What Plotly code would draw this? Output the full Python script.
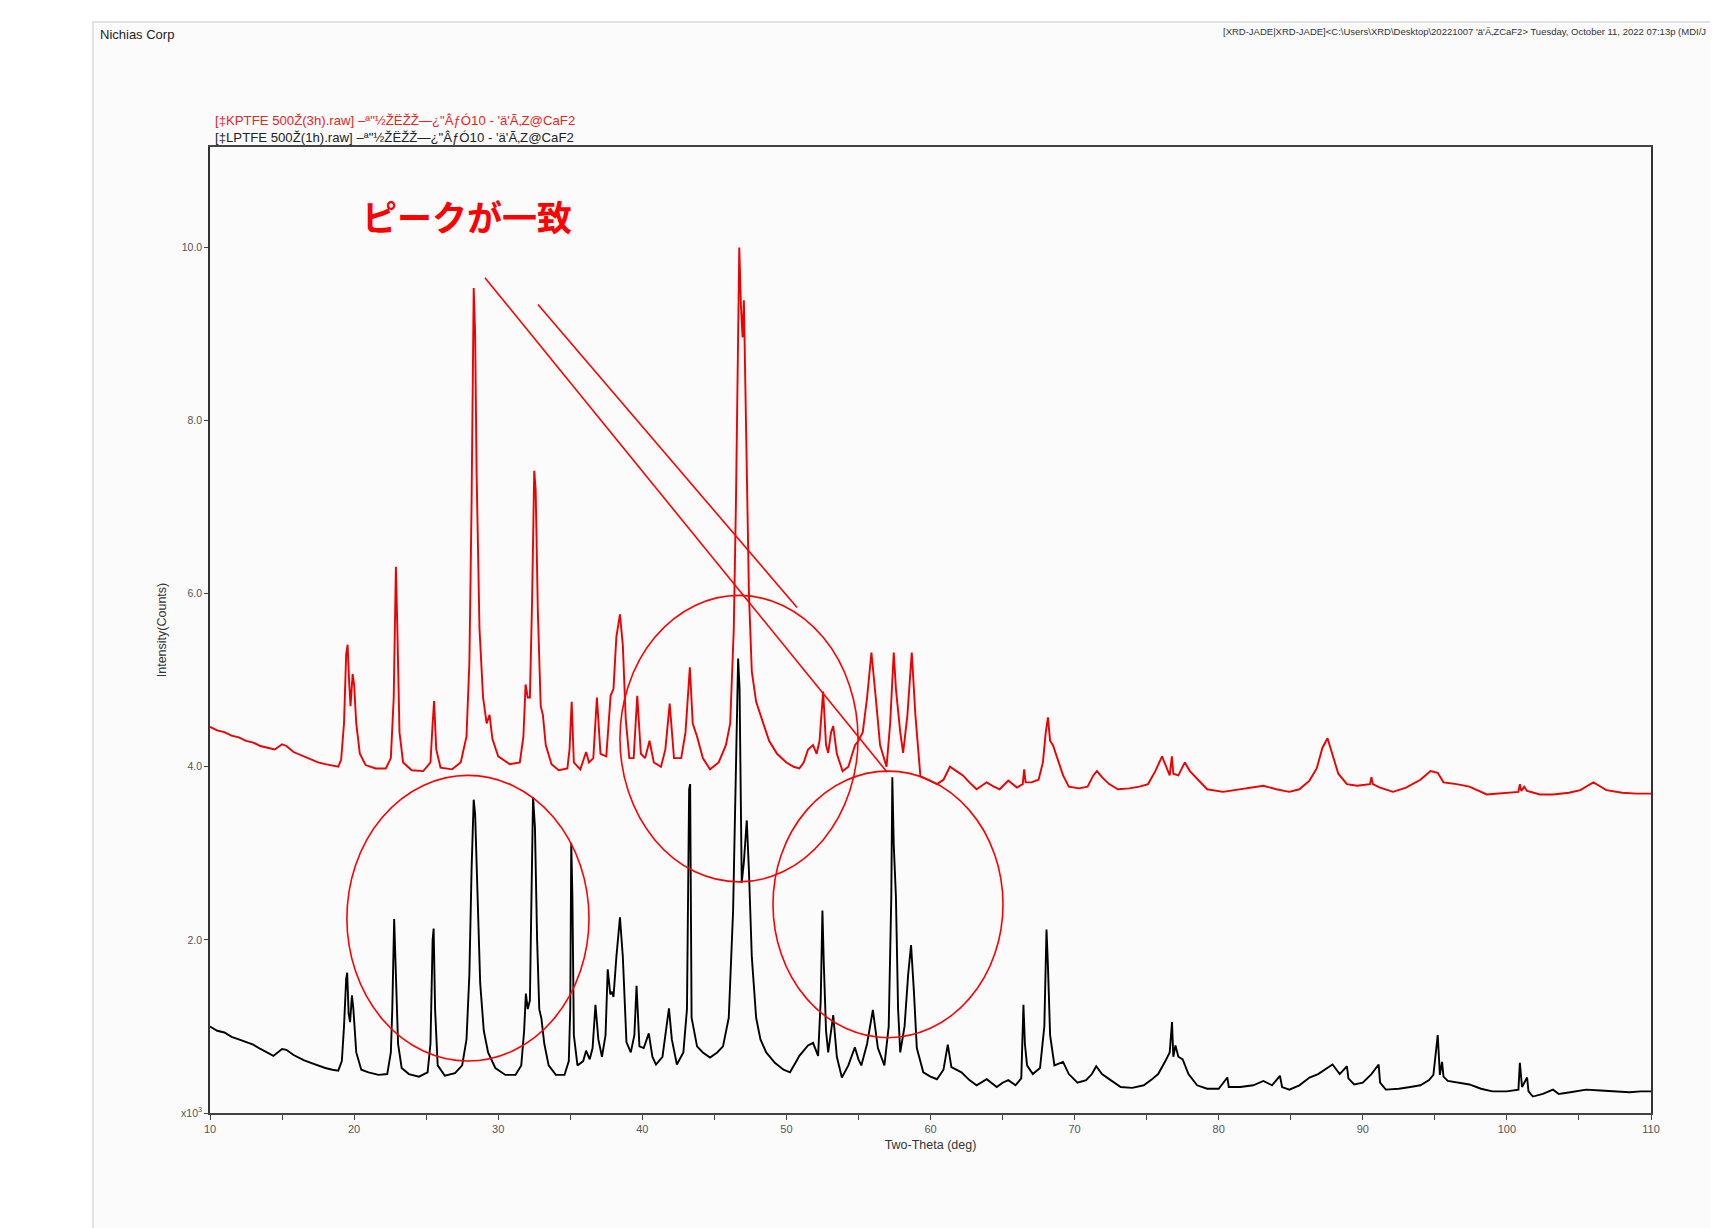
import plotly.graph_objects as go

# ---- data (two-theta in deg, intensity in x10^3 counts) ----
red_x = [10.0,10.5,11.0,11.5,12.0,12.5,13.0,13.5,14.0,14.5,15.0,15.3,15.8,16.5,17.0,17.5,18.0,18.5,18.9,
         19.1,19.3,19.45,19.55,19.65,19.75,19.9,20.0,20.15,20.4,20.8,21.5,22.2,22.55,22.75,22.9,23.0,23.15,23.4,
         24.0,24.8,25.3,25.45,25.55,25.7,26.0,26.8,27.4,27.8,28.0,28.15,28.3,28.4,28.5,28.7,28.95,29.2,29.4,29.6,
         30.0,30.8,31.5,31.75,31.9,32.05,32.2,32.35,32.5,32.6,32.75,32.95,33.1,33.3,33.7,34.2,34.8,34.95,35.1,
         35.25,35.7,36.1,36.3,36.6,36.85,37.1,37.5,37.8,38.0,38.2,38.45,38.65,38.85,39.1,39.4,39.65,39.9,40.2,
         40.5,40.8,41.3,41.6,41.9,42.2,42.7,43.0,43.3,43.5,43.8,44.2,44.7,45.3,45.8,46.1,46.35,46.5,46.65,46.73,
         46.85,46.96,47.05,47.15,47.25,47.4,47.6,47.9,48.2,48.8,49.35,50.0,50.5,50.9,51.2,51.5,51.85,52.1,52.3,
         52.55,52.75,52.9,53.1,53.25,53.5,53.9,54.3,54.76,55.0,55.3,55.6,55.9,56.2,56.5,56.95,57.2,57.45,57.6,
         57.9,58.1,58.4,58.7,58.95,59.3,59.8,60.45,60.9,61.35,61.8,62.25,62.7,63.2,63.9,64.3,64.8,65.4,66.0,
         66.4,66.5,66.6,67.0,67.5,67.8,68.0,68.15,68.3,68.5,68.8,69.2,69.6,70.3,70.9,71.3,71.55,71.9,72.4,73.0,
         73.8,74.5,75.1,75.6,76.07,76.4,76.6,76.75,76.85,77.2,77.65,78.0,78.6,79.2,80.3,81.5,83.1,84.0,84.9,
         85.6,86.3,86.8,87.2,87.55,87.9,88.3,88.9,89.6,90.5,90.6,90.7,91.2,92.1,93.0,94.0,94.7,95.2,95.6,96.5,
         97.4,98.6,99.8,100.8,100.9,101.0,101.2,101.4,102.3,103.2,104.3,105.1,105.6,106.0,106.4,106.9,108.0,
         109.0,110.0]
red_y = [4.46,4.42,4.40,4.36,4.34,4.30,4.28,4.24,4.22,4.20,4.26,4.24,4.17,4.12,4.08,4.05,4.03,4.01,4.00,
         4.08,4.50,5.30,5.41,5.00,4.70,5.07,4.95,4.50,4.15,4.02,3.98,3.98,4.10,4.80,6.31,5.60,4.40,4.05,
         3.96,3.95,4.05,4.50,4.76,4.20,3.99,3.97,4.05,4.35,5.20,7.00,9.53,9.00,7.40,5.60,4.80,4.50,4.60,4.32,
         4.12,4.03,4.05,4.35,4.95,4.80,4.80,5.90,7.42,7.20,5.80,4.70,4.60,4.25,4.03,3.96,3.98,4.20,4.75,
         4.05,3.97,4.17,4.05,4.10,4.80,4.15,4.12,4.82,4.90,5.50,5.76,5.40,4.55,4.10,4.10,4.82,4.15,4.10,
         4.30,4.05,4.00,4.20,4.73,4.10,4.10,4.40,5.15,4.50,4.35,4.10,3.97,4.05,4.25,4.50,5.60,7.07,9.20,10.0,
         9.30,8.96,9.39,8.40,7.60,6.00,5.10,4.75,4.60,4.30,4.15,4.05,4.00,3.98,4.05,4.20,4.25,4.15,4.30,
         4.87,4.25,4.16,4.40,4.47,4.15,3.95,4.00,4.25,4.30,4.40,4.80,5.32,4.80,4.25,4.00,4.50,5.32,4.90,
         4.40,4.16,4.60,5.32,4.60,3.89,3.85,3.80,3.85,4.00,3.95,3.90,3.82,3.74,3.82,3.78,3.74,3.84,3.76,
         3.80,3.97,3.82,3.82,3.85,4.05,4.40,4.57,4.30,4.25,4.10,3.90,3.77,3.75,3.77,3.90,3.95,3.88,3.80,3.74,
         3.75,3.77,3.80,3.95,4.12,3.98,3.90,4.12,3.92,3.90,4.05,3.95,3.85,3.74,3.71,3.74,3.78,3.74,3.71,
         3.74,3.84,3.98,4.22,4.33,4.15,3.92,3.80,3.78,3.80,3.88,3.80,3.76,3.71,3.76,3.85,3.95,3.93,3.82,3.80,
         3.77,3.68,3.70,3.71,3.80,3.72,3.77,3.72,3.68,3.68,3.70,3.73,3.78,3.82,3.78,3.73,3.70,
         3.69,3.69]

black_x = [10.0,10.5,11.0,11.5,12.0,12.5,13.0,13.5,14.0,14.4,15.0,15.3,15.8,16.5,17.0,17.5,18.0,18.5,18.9,
           19.15,19.3,19.45,19.52,19.62,19.72,19.85,19.95,20.15,20.5,21.0,21.7,22.3,22.55,22.65,22.78,22.9,
           23.05,23.3,23.8,24.5,25.1,25.3,25.45,25.52,25.62,25.8,26.3,27.0,27.5,27.8,28.0,28.15,28.3,28.4,28.55,
           28.75,29.0,29.3,29.8,30.5,31.2,31.6,31.8,31.92,32.05,32.2,32.3,32.42,32.55,32.7,32.85,33.0,33.2,33.5,
           34.0,34.6,34.9,35.0,35.07,35.15,35.25,35.5,35.9,36.1,36.35,36.55,36.75,36.95,37.2,37.45,37.6,37.78,
           37.9,38.0,38.2,38.45,38.65,38.9,39.2,39.45,39.6,39.8,40.1,40.45,40.7,40.95,41.4,41.65,41.85,42.05,
           42.4,42.85,43.1,43.25,43.32,43.42,43.8,44.2,44.7,45.2,45.6,46.0,46.3,46.5,46.65,46.75,46.9,47.05,
           47.25,47.4,47.6,47.9,48.2,48.6,49.2,49.8,50.25,50.7,50.9,51.2,51.5,51.85,52.2,52.38,52.5,52.6,52.75,
           52.9,53.1,53.25,53.5,53.85,54.3,54.75,55.0,55.2,55.6,56.0,56.35,56.8,57.1,57.28,57.35,57.45,57.6,
           57.75,57.9,58.2,58.45,58.65,58.85,59.05,59.5,60.0,60.45,60.9,61.2,61.45,62.15,62.7,63.2,63.9,64.6,
           65.0,65.4,65.9,66.3,66.45,66.55,66.7,67.1,67.6,67.9,68.05,68.15,68.3,68.6,69.2,69.6,70.2,70.8,71.2,
           71.5,71.9,72.5,73.2,74.0,74.8,75.3,75.8,76.3,76.6,76.76,76.85,77.0,77.2,77.5,77.9,78.5,79.2,80.0,
           80.6,80.7,81.5,82.4,83.1,83.7,84.25,84.4,84.9,85.6,86.3,86.9,87.4,87.9,88.4,88.9,89.0,89.4,90.0,
           90.6,91.1,91.2,91.6,92.5,93.3,94.0,94.6,94.9,95.2,95.35,95.5,95.6,95.9,96.6,97.4,98.2,99.0,100.0,
           100.8,100.9,101.05,101.4,101.5,101.8,102.5,103.2,103.6,104.4,105.5,106.5,107.5,108.5,109.3,110.0]
black_y = [1.00,0.95,0.93,0.88,0.85,0.82,0.79,0.74,0.70,0.66,0.74,0.73,0.67,0.61,0.58,0.55,0.52,0.50,0.49,
           0.60,1.00,1.55,1.62,1.15,1.05,1.36,1.20,0.70,0.50,0.47,0.44,0.45,0.70,1.20,2.24,1.60,
           0.80,0.52,0.45,0.42,0.47,0.80,2.00,2.13,1.20,0.55,0.43,0.46,0.55,0.85,1.60,2.80,3.62,3.45,2.60,
           1.50,0.95,0.70,0.52,0.44,0.44,0.55,0.95,1.38,1.20,1.30,2.40,3.65,3.30,2.00,1.20,1.09,0.80,0.55,
           0.44,0.44,0.60,1.20,3.12,2.50,0.90,0.55,0.60,0.72,0.62,0.75,1.25,0.85,0.65,0.90,1.66,1.37,
           1.40,1.34,1.80,2.26,1.80,0.82,0.70,0.90,1.47,0.77,0.75,0.92,0.65,0.56,0.65,0.95,1.21,0.85,
           0.56,0.70,1.20,3.74,3.80,1.10,0.77,0.70,0.64,0.70,0.77,1.10,2.33,4.00,5.25,4.90,2.66,2.90,
           3.38,2.80,1.80,1.10,0.85,0.70,0.58,0.50,0.47,0.60,0.66,0.72,0.78,0.81,0.66,1.30,2.34,1.70,0.95,
           0.70,0.95,1.13,0.65,0.41,0.55,0.76,0.62,0.55,0.80,1.19,0.75,0.55,1.00,2.50,3.88,3.10,2.50,
           1.20,0.70,1.00,1.60,1.94,1.40,0.75,0.47,0.42,0.39,0.50,0.79,0.53,0.47,0.38,0.32,0.39,0.30,
           0.35,0.38,0.32,0.40,1.25,0.80,0.55,0.45,0.52,1.00,2.12,1.70,0.90,0.55,0.59,0.45,0.35,0.38,0.45,
           0.54,0.45,0.38,0.30,0.29,0.32,0.38,0.45,0.60,0.70,1.05,0.65,0.78,0.65,0.62,0.45,0.32,0.28,0.28,
           0.41,0.30,0.30,0.32,0.37,0.32,0.43,0.30,0.27,0.32,0.41,0.45,0.51,0.56,0.45,0.54,0.40,0.33,0.35,
           0.45,0.56,0.35,0.27,0.28,0.30,0.32,0.38,0.44,0.90,0.44,0.59,0.42,0.37,0.35,0.33,0.28,0.25,0.25,
           0.27,0.58,0.30,0.41,0.25,0.19,0.22,0.27,0.22,0.24,0.27,0.26,0.25,0.24,0.25,0.25]

x_tick_vals = [10, 20, 30, 40, 50, 60, 70, 80, 90, 100, 110]
y_tick_vals = [0, 2, 4, 6, 8, 10]
y_tick_text = ["x10<sup>3</sup>", "2.0", "4.0", "6.0", "8.0", "10.0"]

red_label = "[‡KPTFE 500Ž(3h).raw] –ª\"½ŽËŽŽ—¿\"ÂƒÓ10 - 'ä'Ã‚Z@CaF2"
black_label = "[‡LPTFE 500Ž(1h).raw] –ª\"½ŽËŽŽ—¿\"ÂƒÓ10 - 'ä'Ã‚Z@CaF2"
header = "[XRD-JADE|XRD-JADE]<C:\\Users\\XRD\\Desktop\\20221007 'ä'Ã‚ZCaF2> Tuesday, October 11, 2022 07:13p (MDI/J"
note = "ピークが一致"

# annotation geometry (data coordinates)
circles = [(19.5, 0.60, 36.3, 3.90), (38.45, 2.67, 54.97, 5.98), (49.07, 0.87, 65.03, 3.95)]
lines = [(29.08, 9.65, 56.98, 3.94), (32.76, 9.34, 50.74, 5.84)]

W, H = 1718, 1228
OFF = 8  # page body margin
# target plot area in page pixels: x 210..1651, y 147..1113
L = 210 - OFF
T = 147 - OFF
pw = 1441
ph = 966
R = W - L - pw
B = H - T - ph

def px(x):  # page pixel -> paper x
    return (x - OFF - L) / pw

def py(y):  # page pixel -> paper y
    return (T + ph - (y - OFF)) / ph

fig = go.Figure()
fig.add_trace(go.Scatter(x=red_x, y=red_y, mode="lines", line=dict(color="#ee0000", width=1.9),
                         name=red_label, showlegend=False))
fig.add_trace(go.Scatter(x=black_x, y=black_y, mode="lines", line=dict(color="#000000", width=1.9),
                         name=black_label, showlegend=False))

shapes = []
shapes.append(dict(type="rect", xref="paper", yref="paper", x0=px(93), x1=px(1740), y0=py(1260), y1=py(22),
                   fillcolor="#fbfbfb", line=dict(color="#d9d9d9", width=1.5), layer="below"))
for (x0, y0, x1, y1) in circles:
    shapes.append(dict(type="circle", xref="x", yref="y", x0=x0, y0=y0, x1=x1, y1=y1,
                       line=dict(color="#ff0000", width=1.6)))
for (x0, y0, x1, y1) in lines:
    shapes.append(dict(type="line", xref="x", yref="y", x0=x0, y0=y0, x1=x1, y1=y1,
                       line=dict(color="#ff0000", width=1.6)))

annotations = [
    dict(text="Nichias Corp", xref="paper", yref="paper", x=px(98), y=py(34), xanchor="left", yanchor="middle",
         showarrow=False, font=dict(family="Liberation Sans", size=13, color="#222222")),
    dict(text=header, xref="paper", yref="paper", x=px(1221), y=py(31), xanchor="left", yanchor="middle",
         showarrow=False, font=dict(family="Liberation Sans", size=9.5, color="#333333")),
    dict(text=red_label, xref="paper", yref="paper", x=px(213), y=py(121), xanchor="left", yanchor="middle",
         showarrow=False, font=dict(family="Liberation Sans", size=13.2, color="#ee2222")),
    dict(text=black_label, xref="paper", yref="paper", x=px(213), y=py(137), xanchor="left", yanchor="middle",
         showarrow=False, font=dict(family="Liberation Sans", size=13.2, color="#222222")),
    dict(text="<b>" + note + "</b>", xref="paper", yref="paper", x=px(467), y=py(216), xanchor="center",
         yanchor="middle", showarrow=False, font=dict(family="Noto Sans CJK JP", size=35, color="#ff0000")),
]

fig.update_layout(
    width=W, height=H,
    margin=dict(l=L, r=R, t=T, b=B),
    paper_bgcolor="#ffffff",
    plot_bgcolor="rgba(0,0,0,0)",
    shapes=shapes,
    annotations=annotations,
    font=dict(family="Liberation Sans", color="#444444"),
    xaxis=dict(range=[10, 110], tickvals=x_tick_vals, ticks="outside", ticklen=5, tickcolor="#444",
               showgrid=False, zeroline=False, showline=True, linecolor="#444444", linewidth=1.5, mirror=True,
               tickfont=dict(size=11, color="#555555"),
               minor=dict(dtick=5, ticks="outside", ticklen=5, tickcolor="#444"),
               title=dict(text="Two-Theta (deg)", font=dict(size=12.5, color="#333333"), standoff=6)),
    yaxis=dict(range=[0, 11.16], tickvals=y_tick_vals, ticktext=y_tick_text, ticks="outside", ticklen=4,
               tickcolor="#444", showgrid=False, zeroline=False, showline=True, linecolor="#333333",
               linewidth=1.5, mirror=True, tickfont=dict(size=10.5, color="#555555"),
               title=dict(text="Intensity(Counts)", font=dict(size=12.5, color="#333333"), standoff=12)),
)

fig.write_html("out.html")
